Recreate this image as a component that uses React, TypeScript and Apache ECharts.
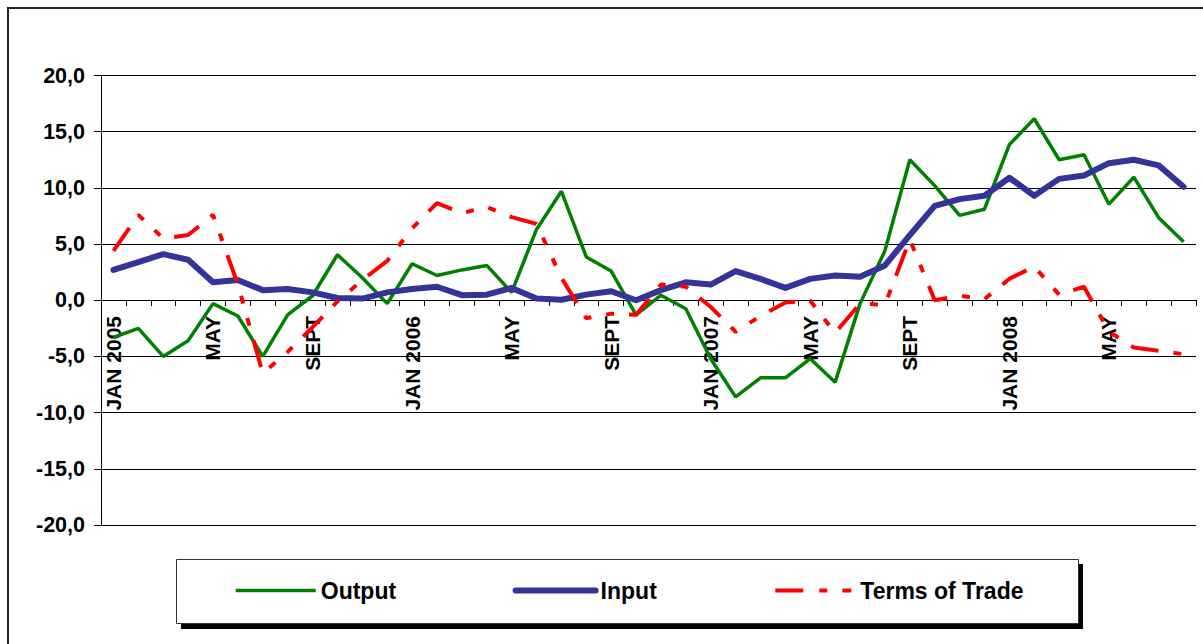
import React, { useEffect, useRef } from "react";
import * as echarts from "echarts";

const FONT = "'Liberation Sans', Arial, Helvetica, sans-serif";

const categories = [
  "JAN 2005", "FEB", "MAR", "APR", "MAY", "JUN", "JUL", "AUG", "SEPT", "OCT", "NOV", "DEC",
  "JAN 2006", "FEB", "MAR", "APR", "MAY", "JUN", "JUL", "AUG", "SEPT", "OCT", "NOV", "DEC",
  "JAN 2007", "FEB", "MAR", "APR", "MAY", "JUN", "JUL", "AUG", "SEPT", "OCT", "NOV", "DEC",
  "JAN 2008", "FEB", "MAR", "APR", "MAY", "JUN", "JUL", "AUG",
];

const outputValues = [
  -3.3, -2.5, -5.0, -3.6, -0.3, -1.4, -5.0, -1.3, 0.4, 4.05,
  2.0, -0.3, 3.25, 2.2, 2.7, 3.1, 0.7, 6.3, 9.7, 3.85,
  2.6, -1.3, 0.45, -0.75, -5.2, -8.6, -6.9, -6.9, -5.2, -7.3,
  -0.3, 4.4, 12.5, 10.2, 7.55, 8.1, 13.85, 16.15, 12.5, 12.95,
  8.55, 10.95, 7.35, 5.2,
];

const inputValues = [
  2.7, 3.4, 4.1, 3.6, 1.6, 1.8, 0.9, 1.0, 0.7, 0.2,
  0.15, 0.7, 1.0, 1.2, 0.45, 0.5, 1.1, 0.15, 0.05, 0.5,
  0.8, 0.0, 0.9, 1.6, 1.4, 2.6, 1.9, 1.1, 1.9, 2.2,
  2.1, 3.1, 5.8, 8.4, 9.0, 9.3, 10.9, 9.3, 10.8, 11.1,
  12.2, 12.5, 12.0, 10.1,
];

const termsOfTradeValues = [
  4.4, 7.6, 5.5, 5.8, 7.6, 1.4, -6.5, -4.6, -2.4, -0.1,
  1.8, 3.5, 6.4, 8.65, 7.75, 8.3, 7.4, 6.8, 2.0, -1.6,
  -1.2, -1.3, 1.4, 1.2, -0.6, -2.8, -1.4, -0.2, -0.05, -2.9,
  -0.3, -0.4, 5.4, 0.0, 0.4, 0.1, 1.9, 3.0, 0.5, 1.2,
  -2.8, -4.2, -4.5, -4.8,
];

const seriesNames = ["Output", "Input", "Terms of Trade"];
const seriesColors = ["#008000", "#333399", "#ff0000"];
const seriesWidths = [3.5, 6, 4];
const totDash = [28, 15, 8, 15, 8, 15];

export default function App() {
  const ref = useRef<HTMLDivElement>(null);

  useEffect(() => {
    if (!ref.current) return;
    const chart = echarts.init(ref.current, null, { renderer: "svg" });
    const option: any = {
      animation: false,
      backgroundColor: "#ffffff",
      textStyle: { fontFamily: FONT },
      grid: { left: 101, right: 7, top: 75.5, bottom: 119, containLabel: false },
      xAxis: {
        type: "category",
        data: categories,
        boundaryGap: true,
        position: "bottom",
        offset: -225,
        axisLine: { show: true, onZero: false, lineStyle: { color: "#000", width: 1 } },
        axisTick: { show: true, interval: 0, length: 6, lineStyle: { color: "#000", width: 1 } },
        axisLabel: {
          interval: 3,
          rotate: 90,
          margin: 16,
          color: "#000",
          fontSize: 21,
          fontWeight: "bold",
          fontFamily: FONT,
        },
        splitLine: { show: false },
      },
      yAxis: {
        type: "value",
        min: -20,
        max: 20,
        interval: 5,
        axisLine: { show: true, lineStyle: { color: "#000", width: 1 } },
        axisTick: { show: true, length: 7, lineStyle: { color: "#000", width: 1 } },
        axisLabel: {
          margin: 16,
          color: "#000",
          fontSize: 21.5,
          fontWeight: "bold",
          fontFamily: FONT,
          formatter: (v: number) => v.toFixed(1).replace(".", ","),
        },
        splitLine: { show: true, lineStyle: { color: "#000", width: 1 } },
      },
      legend: {
        left: 234,
        top: 579,
        orient: "horizontal",
        padding: 0,
        itemGap: 116.5,
        itemWidth: 80,
        itemHeight: 14,
        itemStyle: { opacity: 0, borderWidth: 0 },
        textStyle: { fontSize: 23, fontWeight: "bold", color: "#000", fontFamily: FONT },
        data: [
          { name: seriesNames[0], lineStyle: { width: seriesWidths[0], color: seriesColors[0], type: "solid" } },
          { name: seriesNames[1], lineStyle: { width: seriesWidths[1], color: seriesColors[1], type: "solid", cap: "round" } },
          { name: seriesNames[2], lineStyle: { width: seriesWidths[2], color: seriesColors[2], type: [28, 16, 8, 15, 9, 20] } },
        ],
      },
      graphic: [
        {
          type: "rect",
          z: -10,
          silent: true,
          shape: { x: 8, y: 8, width: 1300, height: 700 },
          style: { fill: "none", stroke: "#222", lineWidth: 2 },
        },
        {
          type: "rect",
          z: -10,
          silent: true,
          shape: { x: 181, y: 564, width: 902, height: 65 },
          style: { fill: "#000" },
        },
        {
          type: "rect",
          z: -9,
          silent: true,
          shape: { x: 176.5, y: 559.5, width: 902, height: 64 },
          style: { fill: "#fff", stroke: "#333", lineWidth: 1 },
        },
      ],
      series: [
        {
          name: seriesNames[0],
          type: "line",
          data: outputValues,
          symbol: "none",
          lineStyle: { color: seriesColors[0], width: seriesWidths[0] },
          itemStyle: { color: seriesColors[0] },
        },
        {
          name: seriesNames[1],
          type: "line",
          data: inputValues,
          symbol: "none",
          lineStyle: { color: seriesColors[1], width: seriesWidths[1], cap: "round", join: "round" },
          itemStyle: { color: seriesColors[1] },
        },
        {
          name: seriesNames[2],
          type: "line",
          data: termsOfTradeValues,
          symbol: "none",
          lineStyle: { color: seriesColors[2], width: seriesWidths[2], type: totDash },
          itemStyle: { color: seriesColors[2] },
        },
      ],
    };
    chart.setOption(option);
    return () => chart.dispose();
  }, []);

  return (
    <div
      ref={ref}
      style={{ position: "fixed", left: 0, top: 0, width: 1203, height: 644, background: "#fff" }}
    />
  );
}
